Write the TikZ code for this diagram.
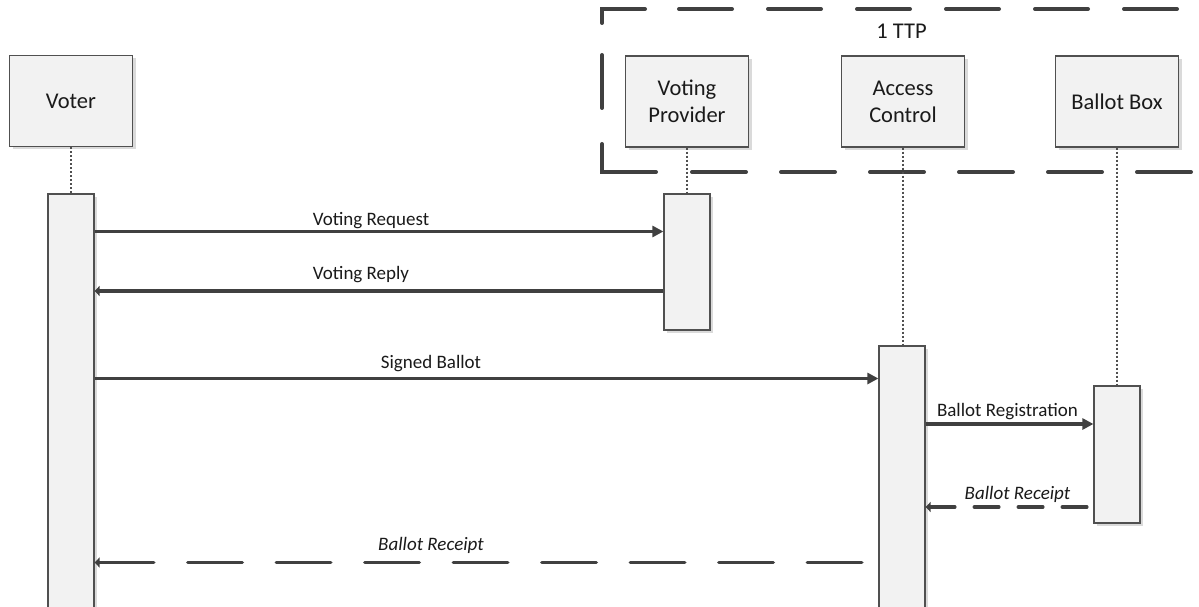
\documentclass[tikz,border=0pt]{standalone}
\usepackage{fontspec}
\setmainfont{Carlito}
\usetikzlibrary{arrows.meta,shadows}
\definecolor{boxfill}{HTML}{F2F2F2}
\definecolor{edgec}{HTML}{505050}
\definecolor{arrowc}{HTML}{404040}
\definecolor{shad}{HTML}{DADADA}
\definecolor{txt}{HTML}{1A1A1A}
\begin{document}
\begin{tikzpicture}[x=1pt,y=-1pt,
  every node/.style={text=txt},
  actor/.style={draw=edgec, line width=1.2pt, fill=boxfill, minimum width=123pt, minimum height=91pt,
    inner sep=0pt, align=center, font=\fontsize{22.5}{27}\selectfont,
    drop shadow={shadow xshift=3pt, shadow yshift=-3pt, fill=shad, opacity=1}},
  actbar/.style={draw=edgec, line width=1.2pt, fill=boxfill, minimum width=46pt, inner sep=0pt,
    drop shadow={shadow xshift=3pt, shadow yshift=-3pt, fill=shad, opacity=1}},
  life/.style={draw=edgec, line width=1.3pt, dash pattern=on 2pt off 2pt},
  msg/.style={draw=arrowc, line width=3.5pt},
  rtip/.style={-{Triangle[length=11pt,width=11pt]}},
  ltip/.style={{Triangle[length=5pt,width=10pt]}-},
  ret/.style={msg, line cap=round},
  lbl/.style={font=\fontsize{19}{22}\selectfont, anchor=base, inner sep=0pt},
  ilbl/.style={lbl, font=\fontsize{19}{22}\selectfont\itshape},
  ttp/.style={draw=arrowc, line width=4pt, line cap=round},
]
\clip (0,0) rectangle (1199,607);

% TTP boundary
\draw[ttp] (602,23) -- (602,9) -- (645,9);
\draw[ttp, dash pattern=on 53pt off 36pt] (679,9) -- (1215,9);
\draw[ttp] (602,55) -- (602,108);
\draw[ttp] (602,144) -- (602,172) -- (656,172);
\draw[ttp, dash pattern=on 54pt off 35pt] (692,172) -- (1215,172);
\node[font=\fontsize{22.5}{27}\selectfont, anchor=base, inner sep=0pt] (ttplbl) at (901.5,39) {1 TTP};

% activation bars
\node[actbar, minimum height=420pt] (vbar) at (71,404) {};
\node[actbar, minimum height=136pt] (vpbar) at (687,262) {};
\node[actbar, minimum height=270pt] (acbar) at (902,481) {};
\node[actbar, minimum height=137pt] (bbbar) at (1117,454.5) {};

% participants
\node[actor] (voter) at (71,101) {Voter};
\node[actor] (vp) at (687,101.5) {Voting\\Provider};
\node[actor] (ac) at (903,101.5) {Access\\Control};
\node[actor] (bb) at (1117,101.5) {Ballot Box};

% lifelines
\draw[life] (voter.south) -- (voter.south |- vbar.north);
\draw[life] (vp.south) -- (vp.south |- vpbar.north);
\draw[life] (ac.south) -- (ac.south |- acbar.north);
\draw[life] (bb.south) -- (bb.south |- bbbar.north);

% message rows
\coordinate (r1) at (0,231.5);
\coordinate (r2) at (0,291);
\coordinate (r3) at (0,378.5);
\coordinate (r4) at (0,424);
\coordinate (r5) at (0,507);
\coordinate (r6) at (0,562.5);

\draw[msg, rtip] (vbar.east |- r1) -- (vpbar.west |- r1);
\draw[msg, ltip] (vbar.east |- r2) -- (vpbar.west |- r2);
\draw[msg, rtip] (vbar.east |- r3) -- (acbar.west |- r3);
\draw[msg, rtip] (acbar.east |- r4) -- (bbbar.west |- r4);
\draw[ret, ltip, dash pattern=on 24.5pt off 19.5pt] (acbar.east |- r5) -- (bbbar.west |- r5);
\draw[ret, ltip, dash pattern=on 54.5pt off 34pt] (vbar.east |- r6) -- (acbar.west |- r6);

% labels
\node[lbl] (l1) at (371,225) {Voting Request};
\node[lbl] (l2) at (361,279) {Voting Reply};
\node[lbl] (l3) at (431,368) {Signed Ballot};
\node[lbl] (l4) at (1007.5,416) {Ballot Registration};
\node[ilbl] (l5) at (1017.5,499.5) {Ballot Receipt};
\node[ilbl] (l6) at (431,550) {Ballot Receipt};
\end{tikzpicture}
\end{document}
